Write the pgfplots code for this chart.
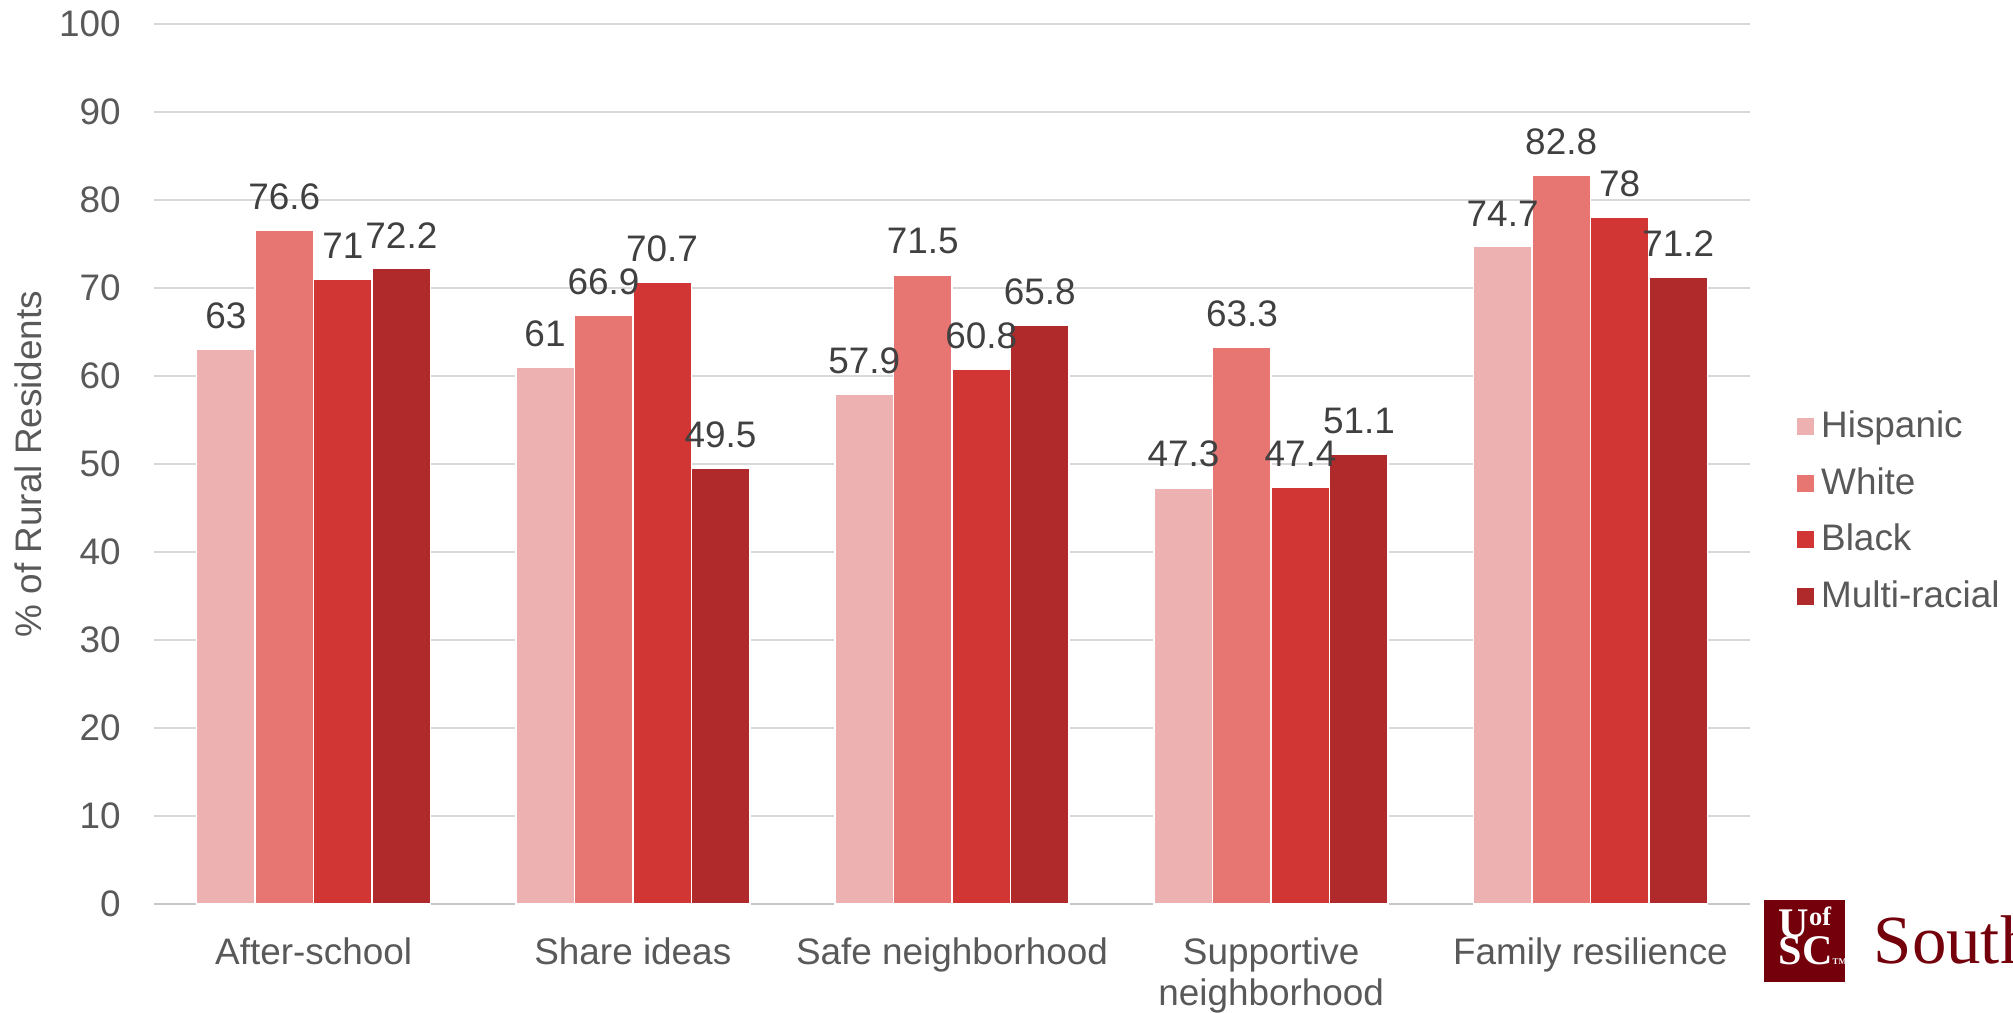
\documentclass[border=0pt]{standalone}
\usepackage{pgfplots}
\usepackage{pgfplotstable}
\pgfplotsset{compat=1.18}
\usepackage{fontspec}
\setmainfont{Liberation Sans}
\newfontfamily\seriffont{Liberation Serif}
\definecolor{cHis}{HTML}{EDB1B1}
\definecolor{cWhi}{HTML}{E77572}
\definecolor{cBla}{HTML}{D13634}
\definecolor{cMul}{HTML}{B0292B}
\definecolor{tickgray}{HTML}{595959}
\definecolor{labgray}{HTML}{404040}
\definecolor{gridgray}{HTML}{D9D9D9}
\definecolor{maroon}{HTML}{73000A}
\newcommand\cf{\fontsize{10.5pt}{11.7pt}\selectfont}

\pgfplotstableread{
x his whi bla mul
0 63   76.6 71   72.2
1 61   66.9 70.7 49.5
2 57.9 71.5 60.8 65.8
3 47.3 63.3 47.4 51.1
4 74.7 82.8 78   71.2
}\data

\begin{document}
\begin{tikzpicture}
\pgfplotsset{sq/.style={legend image code/.code={\fill[##1,draw=none] (0mm,-0.85mm) rectangle (1.7mm,0.85mm);}}}
\begin{axis}[
  at={(15.4mm,10.8mm)}, anchor=south west,
  scale only axis, width=159.6mm, height=88mm,
  xmin=-0.5, xmax=4.5, ymin=0, ymax=100,
  ytick={0,10,...,100},
  xtick={0,1,2,3,4},
  xticklabels={After-school, Share ideas, Safe neighborhood, Supportive\\neighborhood, Family resilience},
  ybar, bar width=0.1833,
  axis line style={draw=none},
  major tick length=0pt,
  ymajorgrids, major grid style={gridgray, line width=0.22mm},
  extra y ticks={0}, extra y tick labels={},
  extra y tick style={major grid style={color=gridgray!80!gray, line width=0.25mm}},
  /pgf/number format/assume math mode=true,
  yticklabel style={font=\cf, text=tickgray, xshift=-2.1mm},
  xticklabel style={font=\cf, text=tickgray, align=center, yshift=-2.1mm},
  ylabel={\% of Rural Residents},
  ylabel style={font=\cf, text=tickgray, at={(axis description cs:-0.079,0.5)}, anchor=center},
  nodes near coords,
  nodes near coords style={font=\cf, text=labgray, yshift=0.8mm},
  legend style={at={(1.0225,0.446)}, anchor=west, draw=none, fill=none, font=\cf, text=tickgray, row sep=1.05mm, nodes={inner sep=0.7mm}},
  legend cell align=left,
]
\addplot[fill=cHis, draw=white, line width=0.15mm, bar shift=-0.275, sq] table[x=x,y=his]{\data};
\addplot[fill=cWhi, draw=white, line width=0.15mm, bar shift=-0.0917, sq] table[x=x,y=whi]{\data};
\addplot[fill=cBla, draw=white, line width=0.15mm, bar shift=0.0917, sq] table[x=x,y=bla]{\data};
\addplot[fill=cMul, draw=white, line width=0.15mm, bar shift=0.275, sq] table[x=x,y=mul]{\data};
\legend{Hispanic, White, Black, Multi-racial}
\end{axis}
% logo
\fill[maroon] (176.4mm,3.0mm) rectangle (184.5mm,11.2mm);
\node[text=white, anchor=base west, inner sep=0, font=\seriffont\bfseries\fontsize{12pt}{12pt}\selectfont] at (177.8mm,7.5mm) {U\raisebox{0.28em}{\fontsize{7.5pt}{7.5pt}\selectfont of}};
\node[text=white, anchor=base west, inner sep=0, font=\seriffont\bfseries\fontsize{12pt}{12pt}\selectfont] at (177.8mm,4.8mm) {SC\fontsize{2.5pt}{2.5pt}\selectfont TM};
\node[text=maroon, anchor=base west, inner sep=0, font=\seriffont\fontsize{19.6pt}{20pt}\selectfont] at (187.3mm,4.9mm) {South};
\pgfresetboundingbox
\path[use as bounding box] (0,0) rectangle (201.3mm,101.2mm);
\end{tikzpicture}
\end{document}
